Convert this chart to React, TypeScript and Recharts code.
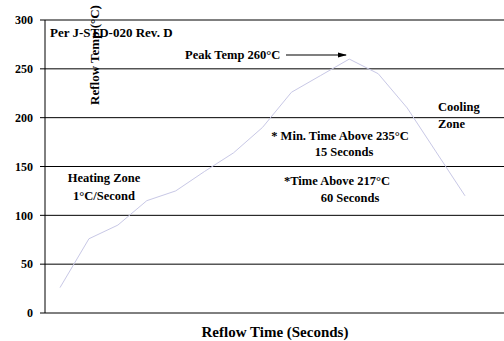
import { LineChart, Line, XAxis, YAxis, CartesianGrid } from 'recharts'

const times = [0, 20, 40, 60, 80, 100, 120, 140, 160, 180, 200, 220, 240, 260, 280]
const temps = [26, 76, 90, 115, 125, 145, 164, 190, 226, 243, 260, 245, 210, 165, 120]
const yTicks = [0, 50, 100, 150, 200, 250, 300]

const data = times.map((t, i) => ({ t, temp: temps[i] }))

const serif = '"Liberation Serif", "Times New Roman", serif'

export default function App() {
  return (
    <div style={{ position: 'absolute', left: 0, top: 0, width: 504, height: 341, background: '#fff' }}>
      <LineChart width={504} height={341} data={data} margin={{ top: 20, right: 0, bottom: 28, left: 0 }}>
        <CartesianGrid vertical={false} stroke="#000" strokeWidth={1} />
        <XAxis
          dataKey="t"
          tick={false}
          tickLine={false}
          axisLine={{ stroke: '#000' }}
          padding={{ left: 15, right: 39 }}
          height={0}
        />
        <YAxis
          width={45}
          domain={[0, 300]}
          ticks={yTicks}
          tickSize={5}
          tickMargin={7}
          axisLine={{ stroke: '#000' }}
          tickLine={{ stroke: '#000' }}
          tick={{ fill: '#000', fontSize: 12, fontWeight: 700, fontFamily: serif }}
        />
        <Line
          type="linear"
          dataKey="temp"
          stroke="#c8c8e6"
          strokeWidth={1}
          dot={false}
          isAnimationActive={false}
        />
      </LineChart>
      <svg
        width={504}
        height={341}
        style={{ position: 'absolute', left: 0, top: 0, pointerEvents: 'none' }}
        fontFamily={serif}
        fontWeight={700}
        fill="#000"
      >
        <defs>
          <marker id="arrowHead" markerWidth="9" markerHeight="6" refX="8" refY="3" orient="auto" markerUnits="userSpaceOnUse">
            <path d="M0,0.5 L9,3 L0,5.5 Z" fill="#000" />
          </marker>
        </defs>
        <text x={50} y={37} fontSize={13}>Per J-STD-020 Rev. D</text>
        <text x={185} y={59} fontSize={12.5}>Peak Temp 260°C</text>
        <line x1={286} y1={55} x2={346} y2={55} stroke="#000" strokeWidth={1.2} markerEnd="url(#arrowHead)" />
        <text x={438} y={111} fontSize={12.5}>Cooling</text>
        <text x={438} y={128} fontSize={12.5}>Zone</text>
        <text x={340} y={140} fontSize={12.5} textAnchor="middle">* Min. Time Above 235°C</text>
        <text x={344} y={156} fontSize={12.5} textAnchor="middle">15 Seconds</text>
        <text x={337} y={185} fontSize={12.5} textAnchor="middle">*Time Above 217°C</text>
        <text x={350} y={202} fontSize={12.5} textAnchor="middle">60 Seconds</text>
        <text x={104} y={182} fontSize={12.5} textAnchor="middle">Heating Zone</text>
        <text x={104} y={200} fontSize={12.5} textAnchor="middle">1°C/Second</text>
        <text x={275} y={337} fontSize={15} textAnchor="middle">Reflow Time (Seconds)</text>
        <text x={99} y={55} fontSize={13} textAnchor="middle" transform="rotate(-90, 99, 55)">
          Reflow Temp (°C)
        </text>
      </svg>
    </div>
  )
}
